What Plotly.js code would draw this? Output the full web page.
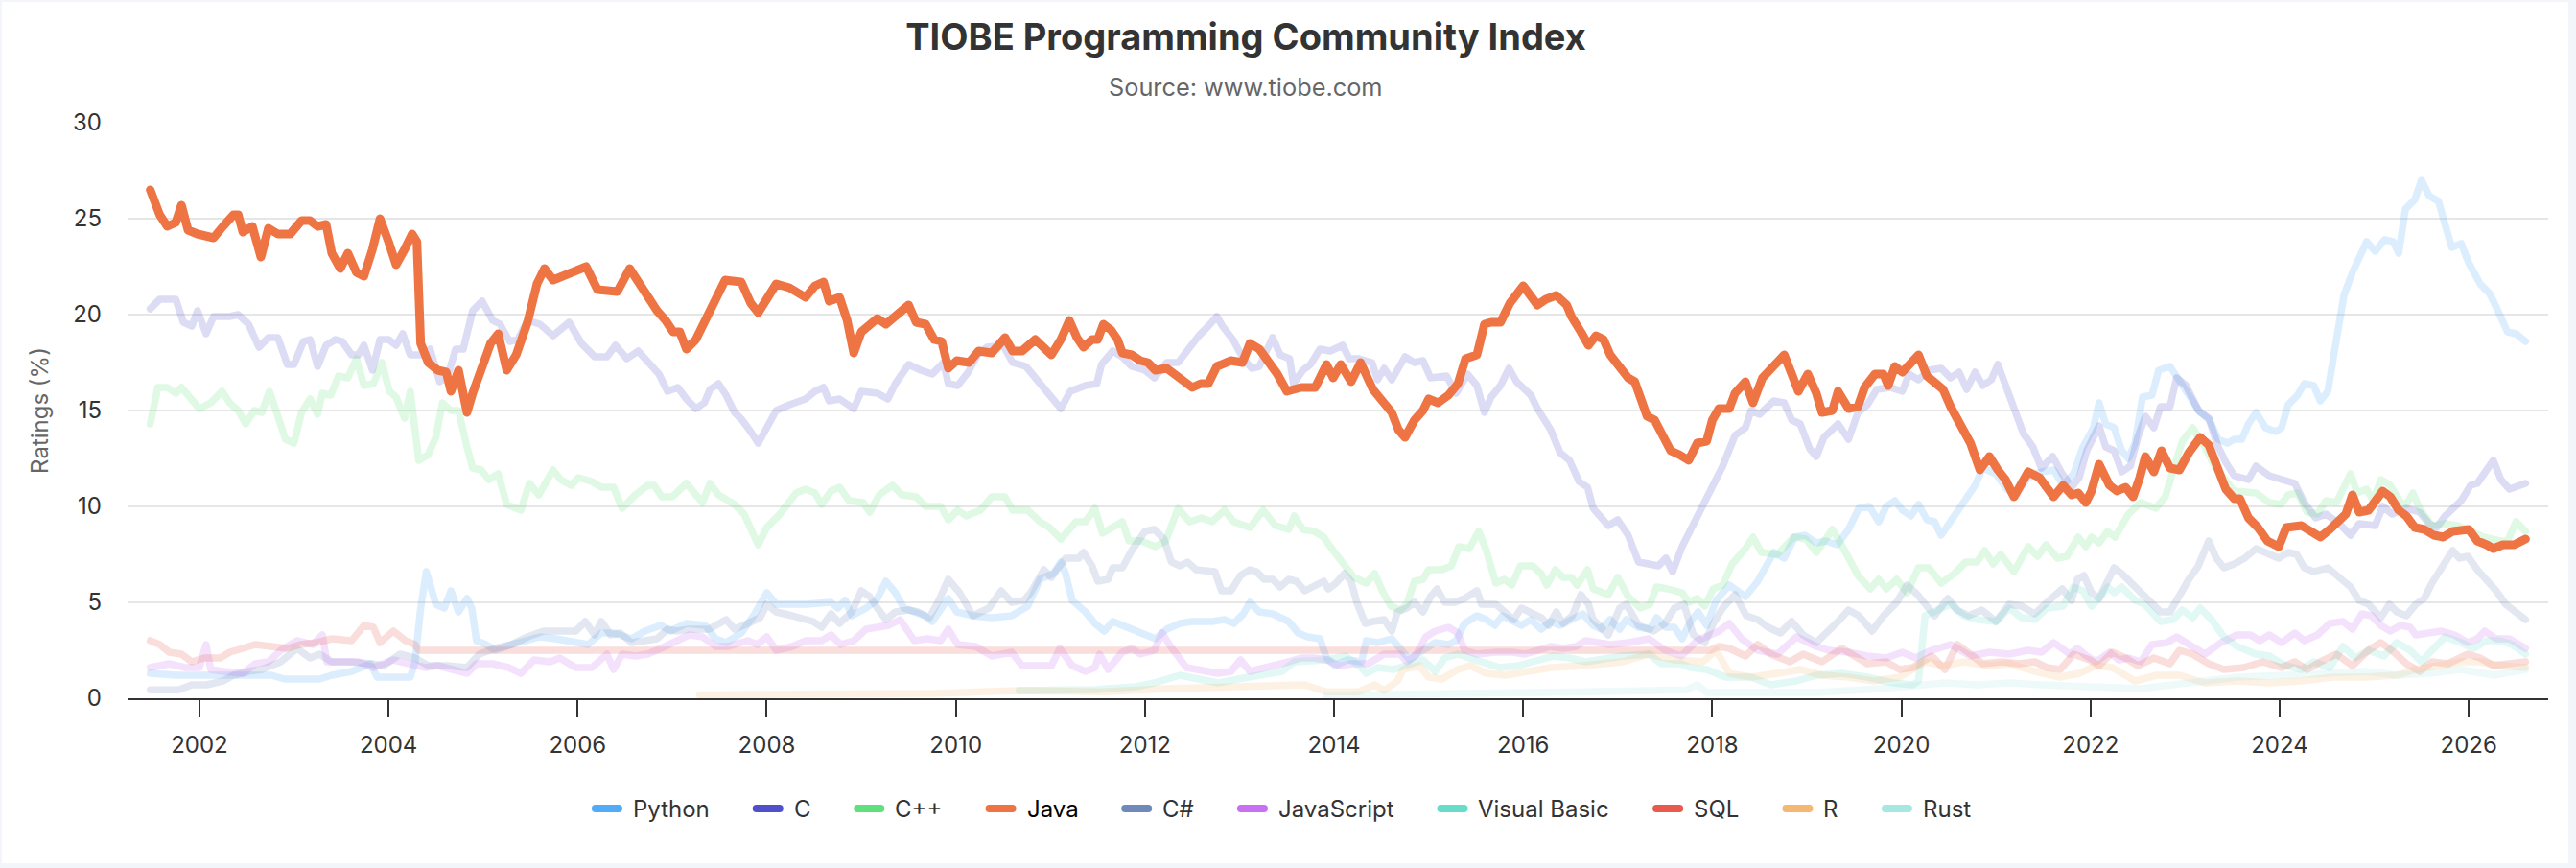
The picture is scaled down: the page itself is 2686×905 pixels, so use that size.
<!DOCTYPE html>
<html><head><meta charset="utf-8">
<script src="https://cdn.plot.ly/plotly-3.0.1.min.js"></script>
<style>
html,body{margin:0;padding:0;background:#f2f5f9;width:2686px;height:905px;overflow:hidden;}
#card{position:absolute;left:2px;top:2px;width:2676px;height:898px;background:#ffffff;}
#chart{position:absolute;left:0;top:0;width:2686px;height:905px;}
.scatterlayer path.js-line{stroke-linejoin:round;stroke-linecap:round;}
.shapelayer path{stroke-linecap:round;}
</style></head><body>
<div id="card"></div><div id="chart"></div>
<script>
// ---- data (decimal year, rating %) ----
const seriesNames = ['Python','C','C++','Java','C#','JavaScript','Visual Basic','SQL','R','Rust'];

const pythonPts = [[2001.48,1.3],[2001.75,1.2],[2002.08,1.2],[2002.25,1.2],[2002.59,1.2],[2002.76,1.2],[2002.90,1.0],[2003.27,1.0],[2003.40,1.2],[2003.61,1.4],[2003.81,1.8],[2003.88,1.1],[2004.01,1.1],[2004.23,1.1],[2004.28,1.9],[2004.34,4.7],[2004.40,6.6],[2004.50,4.9],[2004.59,4.7],[2004.66,5.6],[2004.74,4.5],[2004.83,5.2],[2004.88,4.7],[2004.93,3.0],[2005.03,2.8],[2005.13,2.5],[2005.30,2.8],[2005.47,3.0],[2005.60,3.2],[2005.77,3.1],[2005.98,2.9],[2006.11,2.8],[2006.25,3.4],[2006.38,3.4],[2006.57,3.1],[2006.71,3.5],[2006.88,3.8],[2006.98,3.5],[2007.15,3.9],[2007.35,3.8],[2007.46,3.1],[2007.57,2.9],[2007.73,3.4],[2007.86,4.3],[2008.00,5.5],[2008.10,4.9],[2008.41,4.9],[2008.68,5.0],[2008.75,4.7],[2008.83,5.1],[2008.90,4.3],[2009.05,4.7],[2009.16,5.1],[2009.26,6.1],[2009.36,5.5],[2009.45,4.7],[2009.56,4.5],[2009.67,4.3],[2009.75,4.0],[2009.84,4.7],[2009.92,5.2],[2010.01,4.5],[2010.18,4.3],[2010.38,4.2],[2010.59,4.3],[2010.76,4.8],[2010.89,6.2],[2011.03,6.5],[2011.11,7.1],[2011.16,6.5],[2011.23,5.1],[2011.37,4.5],[2011.47,3.9],[2011.57,3.5],[2011.66,4.0],[2011.76,3.8],[2011.90,3.5],[2012.03,3.2],[2012.11,3.1],[2012.23,3.6],[2012.37,3.9],[2012.50,4.0],[2012.71,4.0],[2012.84,4.1],[2012.94,3.9],[2013.04,4.4],[2013.11,5.0],[2013.21,4.5],[2013.35,4.4],[2013.52,4.0],[2013.62,3.4],[2013.72,3.2],[2013.85,3.1],[2013.92,2.1],[2014.01,1.7],[2014.14,2.0],[2014.29,1.9],[2014.34,3.0],[2014.46,2.9],[2014.61,3.1],[2014.70,2.6],[2014.80,2.0],[2014.94,2.5],[2015.07,2.9],[2015.21,2.8],[2015.29,3.0],[2015.38,3.9],[2015.51,4.3],[2015.61,4.1],[2015.70,3.8],[2015.78,4.3],[2015.88,4.1],[2015.98,3.8],[2016.08,4.1],[2016.19,3.6],[2016.29,4.0],[2016.39,3.8],[2016.51,4.1],[2016.63,4.4],[2016.74,3.8],[2016.82,3.6],[2016.92,4.1],[2017.02,3.6],[2017.09,4.1],[2017.22,3.7],[2017.34,3.6],[2017.41,4.2],[2017.51,3.7],[2017.60,3.7],[2017.68,3.1],[2017.77,4.0],[2017.85,4.5],[2017.94,3.8],[2018.04,5.1],[2018.18,5.9],[2018.35,5.3],[2018.48,6.1],[2018.65,7.6],[2018.76,7.3],[2018.87,8.4],[2018.98,8.5],[2019.10,8.1],[2019.20,8.2],[2019.32,8.0],[2019.44,8.8],[2019.55,9.9],[2019.66,10.0],[2019.76,9.2],[2019.84,10.0],[2019.93,10.3],[2020.01,9.8],[2020.10,9.5],[2020.18,10.1],[2020.27,9.3],[2020.35,9.2],[2020.42,8.5],[2020.52,9.2],[2020.66,10.1],[2020.78,11.1],[2020.86,12.0],[2021.00,11.7],[2021.10,11.0],[2021.20,10.5],[2021.34,11.5],[2021.48,11.8],[2021.61,11.9],[2021.71,11.1],[2021.82,11.7],[2021.92,13.1],[2022.03,14.1],[2022.09,15.4],[2022.16,14.3],[2022.25,14.1],[2022.33,12.9],[2022.40,12.5],[2022.47,13.3],[2022.55,15.7],[2022.65,15.8],[2022.72,17.1],[2022.84,17.3],[2022.92,16.7],[2023.04,15.9],[2023.16,14.9],[2023.26,14.5],[2023.35,13.5],[2023.45,13.3],[2023.52,13.5],[2023.60,13.5],[2023.67,14.3],[2023.75,14.9],[2023.85,14.1],[2023.96,13.9],[2024.02,14.1],[2024.09,15.3],[2024.19,15.8],[2024.26,16.4],[2024.36,16.3],[2024.43,15.5],[2024.51,16.0],[2024.58,18.1],[2024.68,21.0],[2024.77,22.2],[2024.86,23.2],[2024.92,23.8],[2025.01,23.3],[2025.11,23.9],[2025.20,23.8],[2025.26,23.2],[2025.33,25.5],[2025.43,26.0],[2025.50,27.0],[2025.58,26.2],[2025.68,25.9],[2025.75,24.6],[2025.82,23.5],[2025.92,23.7],[2026.00,22.7],[2026.12,21.6],[2026.22,21.1],[2026.29,20.4],[2026.41,19.1],[2026.50,19.0],[2026.60,18.6]];

const cPts = [[2001.48,20.3],[2001.58,20.8],[2001.75,20.8],[2001.83,19.6],[2001.92,19.4],[2001.98,20.2],[2002.07,19.0],[2002.15,19.9],[2002.32,19.9],[2002.41,20.0],[2002.52,19.5],[2002.63,18.3],[2002.73,18.8],[2002.83,18.8],[2002.93,17.4],[2003.00,17.4],[2003.10,18.6],[2003.17,18.7],[2003.25,17.3],[2003.34,18.4],[2003.44,18.7],[2003.51,18.6],[2003.61,17.9],[2003.68,17.9],[2003.74,18.4],[2003.83,17.1],[2003.91,18.7],[2004.00,18.7],[2004.08,18.4],[2004.15,19.0],[2004.23,17.9],[2004.35,17.9],[2004.44,18.2],[2004.54,16.5],[2004.62,16.7],[2004.71,18.2],[2004.79,18.2],[2004.89,20.2],[2004.99,20.7],[2005.10,19.7],[2005.18,19.5],[2005.28,18.6],[2005.37,18.7],[2005.47,19.7],[2005.60,19.5],[2005.74,18.9],[2005.91,19.6],[2006.04,18.5],[2006.18,17.8],[2006.31,17.8],[2006.40,18.4],[2006.52,17.7],[2006.64,18.1],[2006.74,17.6],[2006.86,16.9],[2006.95,16.0],[2007.06,16.2],[2007.15,15.6],[2007.25,15.1],[2007.34,15.4],[2007.40,16.1],[2007.49,16.4],[2007.57,15.8],[2007.66,14.9],[2007.74,14.5],[2007.83,13.9],[2007.91,13.3],[2008.00,14.1],[2008.10,15.0],[2008.24,15.3],[2008.41,15.6],[2008.51,16.0],[2008.60,16.2],[2008.66,15.5],[2008.77,15.6],[2008.92,15.1],[2009.00,16.0],[2009.17,15.9],[2009.28,15.6],[2009.36,16.4],[2009.50,17.4],[2009.63,17.1],[2009.75,16.9],[2009.87,17.5],[2009.92,16.4],[2010.02,16.3],[2010.13,17.0],[2010.23,17.9],[2010.33,18.3],[2010.50,18.4],[2010.60,17.5],[2010.74,17.3],[2010.86,16.6],[2010.99,15.9],[2011.11,15.1],[2011.21,16.0],[2011.37,16.3],[2011.49,16.4],[2011.54,17.4],[2011.66,18.1],[2011.76,17.8],[2011.86,17.3],[2012.00,17.1],[2012.10,16.7],[2012.23,17.5],[2012.35,17.5],[2012.47,18.3],[2012.57,18.9],[2012.67,19.4],[2012.76,19.9],[2012.82,19.4],[2012.93,18.7],[2013.04,17.7],[2013.13,17.2],[2013.21,17.3],[2013.28,18.1],[2013.35,18.8],[2013.43,17.9],[2013.53,17.7],[2013.57,16.4],[2013.67,17.1],[2013.75,17.4],[2013.85,18.2],[2013.96,18.1],[2014.09,18.4],[2014.16,17.7],[2014.26,17.7],[2014.40,17.5],[2014.46,16.6],[2014.53,17.2],[2014.61,16.6],[2014.75,17.8],[2014.85,17.5],[2014.94,17.6],[2015.02,16.7],[2015.19,16.8],[2015.29,15.9],[2015.41,16.9],[2015.51,16.3],[2015.59,14.9],[2015.66,15.7],[2015.76,16.3],[2015.85,17.2],[2015.93,16.5],[2016.08,15.8],[2016.15,15.1],[2016.29,14.0],[2016.39,12.8],[2016.49,12.4],[2016.59,11.3],[2016.68,11.0],[2016.74,9.9],[2016.90,9.0],[2017.00,9.3],[2017.11,8.5],[2017.22,7.1],[2017.34,7.0],[2017.43,6.9],[2017.51,7.3],[2017.58,6.6],[2017.68,7.9],[2017.80,9.1],[2017.90,10.1],[2018.01,11.2],[2018.11,12.1],[2018.24,13.7],[2018.35,14.1],[2018.41,15.0],[2018.50,14.8],[2018.65,15.5],[2018.76,15.4],[2018.84,14.5],[2018.93,14.3],[2019.03,13.0],[2019.10,12.6],[2019.18,13.6],[2019.33,14.3],[2019.44,13.5],[2019.54,14.9],[2019.64,15.3],[2019.74,16.1],[2019.88,16.2],[2020.01,16.0],[2020.08,16.9],[2020.18,16.6],[2020.29,17.1],[2020.42,17.2],[2020.52,16.7],[2020.61,17.0],[2020.69,16.1],[2020.78,17.0],[2020.86,16.3],[2020.95,16.6],[2021.02,17.4],[2021.10,16.3],[2021.20,14.9],[2021.29,13.8],[2021.39,13.1],[2021.48,12.0],[2021.60,12.6],[2021.70,11.7],[2021.80,11.0],[2021.88,11.5],[2021.96,12.9],[2022.03,13.5],[2022.09,14.2],[2022.16,13.1],[2022.25,12.9],[2022.33,11.8],[2022.42,12.1],[2022.50,13.6],[2022.58,14.7],[2022.67,14.1],[2022.74,15.2],[2022.84,15.2],[2022.91,16.7],[2023.01,16.3],[2023.14,15.0],[2023.25,14.6],[2023.35,13.1],[2023.43,12.3],[2023.52,11.6],[2023.67,11.4],[2023.75,12.1],[2023.89,11.6],[2024.02,11.4],[2024.16,11.2],[2024.26,10.2],[2024.38,9.4],[2024.49,9.6],[2024.63,9.1],[2024.75,8.5],[2024.84,9.1],[2025.01,9.0],[2025.09,10.0],[2025.19,9.6],[2025.34,9.9],[2025.48,9.7],[2025.58,9.1],[2025.66,8.9],[2025.75,9.5],[2025.92,10.3],[2026.02,11.1],[2026.09,11.2],[2026.17,11.8],[2026.26,12.4],[2026.34,11.4],[2026.43,10.9],[2026.60,11.2]];

const cppPts = [[2001.48,14.3],[2001.56,16.2],[2001.66,16.2],[2001.75,15.9],[2001.81,16.2],[2001.90,15.7],[2002.00,15.1],[2002.12,15.4],[2002.24,16.0],[2002.32,15.4],[2002.41,15.0],[2002.49,14.3],[2002.58,15.0],[2002.66,14.9],[2002.74,16.0],[2002.83,14.7],[2002.91,13.5],[2003.00,13.3],[2003.08,14.9],[2003.17,15.6],[2003.25,14.8],[2003.30,15.9],[2003.39,15.8],[2003.47,16.8],[2003.57,16.7],[2003.66,17.7],[2003.74,16.3],[2003.84,16.4],[2003.93,17.5],[2004.01,16.0],[2004.08,15.7],[2004.17,14.6],[2004.23,16.0],[2004.32,12.4],[2004.42,12.7],[2004.50,13.6],[2004.57,15.4],[2004.66,15.0],[2004.74,15.0],[2004.83,13.1],[2004.89,12.0],[2004.98,11.9],[2005.06,11.4],[2005.16,11.7],[2005.25,10.1],[2005.40,9.8],[2005.49,11.2],[2005.59,10.6],[2005.74,11.9],[2005.82,11.4],[2005.93,11.1],[2006.01,11.5],[2006.15,11.3],[2006.25,11.0],[2006.38,11.0],[2006.47,9.9],[2006.61,10.6],[2006.74,11.1],[2006.81,11.1],[2006.89,10.5],[2007.00,10.5],[2007.15,11.2],[2007.32,10.2],[2007.40,11.2],[2007.49,10.6],[2007.66,10.1],[2007.76,9.6],[2007.91,8.0],[2008.00,8.9],[2008.14,9.6],[2008.31,10.7],[2008.41,10.9],[2008.51,10.7],[2008.58,10.1],[2008.68,10.8],[2008.77,11.0],[2008.87,10.3],[2009.02,10.2],[2009.09,9.7],[2009.19,10.6],[2009.33,11.1],[2009.43,10.6],[2009.58,10.5],[2009.68,10.0],[2009.84,10.0],[2009.92,9.3],[2010.02,9.8],[2010.11,9.5],[2010.26,9.8],[2010.38,10.5],[2010.52,10.5],[2010.60,9.8],[2010.76,9.8],[2010.89,9.2],[2010.99,8.9],[2011.11,8.3],[2011.27,9.2],[2011.37,9.2],[2011.47,9.9],[2011.55,8.6],[2011.67,9.0],[2011.76,9.2],[2011.83,8.2],[2011.96,8.2],[2012.11,7.9],[2012.22,8.2],[2012.35,9.9],[2012.47,9.2],[2012.60,9.4],[2012.71,9.2],[2012.84,9.8],[2012.94,9.2],[2013.11,8.9],[2013.25,9.8],[2013.38,9.0],[2013.52,8.8],[2013.58,9.5],[2013.67,8.8],[2013.79,8.7],[2013.89,8.4],[2013.99,7.7],[2014.09,7.1],[2014.21,6.3],[2014.34,6.0],[2014.43,6.5],[2014.51,5.6],[2014.60,4.8],[2014.70,4.6],[2014.77,4.9],[2014.85,6.1],[2014.94,6.2],[2015.00,6.7],[2015.14,6.7],[2015.24,6.9],[2015.32,7.9],[2015.43,7.8],[2015.53,8.7],[2015.61,7.7],[2015.71,6.0],[2015.80,6.2],[2015.88,5.9],[2015.97,6.9],[2016.10,6.9],[2016.19,6.5],[2016.25,5.9],[2016.34,6.7],[2016.42,6.3],[2016.51,6.3],[2016.57,5.9],[2016.68,6.7],[2016.74,5.7],[2016.90,5.4],[2017.00,6.3],[2017.11,5.3],[2017.24,4.7],[2017.34,4.9],[2017.41,5.8],[2017.53,5.7],[2017.68,5.5],[2017.75,5.0],[2017.84,5.2],[2017.92,4.8],[2018.01,5.7],[2018.11,5.9],[2018.21,7.0],[2018.35,7.8],[2018.43,8.4],[2018.52,7.6],[2018.69,7.5],[2018.86,8.4],[2018.99,8.3],[2019.10,7.6],[2019.27,8.8],[2019.40,7.7],[2019.54,6.4],[2019.67,5.7],[2019.76,6.2],[2019.84,5.7],[2019.95,6.2],[2020.06,5.5],[2020.18,6.8],[2020.29,6.8],[2020.42,6.0],[2020.56,6.5],[2020.68,7.1],[2020.80,7.1],[2020.88,7.7],[2020.97,7.0],[2021.05,7.5],[2021.19,6.6],[2021.34,7.9],[2021.44,7.4],[2021.53,8.0],[2021.65,7.3],[2021.75,7.4],[2021.87,8.4],[2021.95,7.9],[2022.01,8.4],[2022.09,8.1],[2022.18,8.7],[2022.26,8.4],[2022.40,9.6],[2022.53,10.2],[2022.69,9.9],[2022.79,10.5],[2022.87,11.8],[2022.97,13.4],[2023.08,14.1],[2023.21,13.1],[2023.31,12.1],[2023.43,11.3],[2023.52,10.8],[2023.75,10.7],[2023.89,10.2],[2024.01,10.1],[2024.09,10.6],[2024.19,10.7],[2024.29,9.7],[2024.40,9.6],[2024.49,10.3],[2024.60,10.2],[2024.68,11.0],[2024.75,11.7],[2024.82,10.7],[2024.92,10.9],[2024.99,10.3],[2025.07,11.4],[2025.17,11.1],[2025.28,10.2],[2025.34,10.1],[2025.41,10.7],[2025.48,9.9],[2025.61,9.0],[2025.75,9.1],[2025.88,9.0],[2026.02,8.7],[2026.16,8.4],[2026.33,8.2],[2026.41,8.2],[2026.50,9.2],[2026.60,8.7]];

const javaPts = [[2001.48,26.5],[2001.58,25.2],[2001.66,24.6],[2001.75,24.8],[2001.81,25.7],[2001.88,24.4],[2001.98,24.2],[2002.15,24.0],[2002.25,24.6],[2002.36,25.2],[2002.41,25.2],[2002.46,24.3],[2002.56,24.6],[2002.65,23.0],[2002.73,24.5],[2002.83,24.2],[2002.96,24.2],[2003.08,24.9],[2003.17,24.9],[2003.25,24.6],[2003.34,24.7],[2003.40,23.2],[2003.49,22.4],[2003.57,23.2],[2003.66,22.2],[2003.74,22.0],[2003.83,23.4],[2003.91,25.0],[2004.00,23.8],[2004.08,22.6],[2004.17,23.4],[2004.25,24.2],[2004.30,23.8],[2004.34,18.5],[2004.42,17.5],[2004.52,17.1],[2004.61,17.0],[2004.66,16.0],[2004.74,17.1],[2004.83,14.9],[2004.89,15.9],[2004.98,17.3],[2005.08,18.5],[2005.16,19.0],[2005.25,17.1],[2005.35,17.9],[2005.47,19.6],[2005.57,21.6],[2005.65,22.4],[2005.74,21.8],[2005.91,22.1],[2006.09,22.5],[2006.21,21.3],[2006.31,21.3],[2006.42,21.2],[2006.55,22.4],[2006.64,21.7],[2006.74,21.1],[2006.84,20.2],[2006.93,19.7],[2007.01,19.1],[2007.08,19.1],[2007.15,18.2],[2007.25,18.7],[2007.35,19.7],[2007.46,21.0],[2007.56,21.8],[2007.73,21.7],[2007.83,20.6],[2007.91,20.1],[2008.00,20.9],[2008.10,21.6],[2008.24,21.4],[2008.41,20.9],[2008.51,21.5],[2008.60,21.7],[2008.66,20.7],[2008.77,20.9],[2008.85,19.7],[2008.92,18.0],[2009.00,19.1],[2009.09,19.5],[2009.17,19.8],[2009.26,19.5],[2009.36,19.9],[2009.50,20.5],[2009.58,19.6],[2009.68,19.5],[2009.77,18.7],[2009.85,18.6],[2009.92,17.2],[2010.01,17.6],[2010.14,17.5],[2010.24,18.1],[2010.38,18.0],[2010.52,18.8],[2010.60,18.1],[2010.70,18.1],[2010.84,18.7],[2011.01,17.9],[2011.11,18.7],[2011.20,19.7],[2011.28,18.8],[2011.35,18.3],[2011.44,18.7],[2011.50,18.7],[2011.56,19.5],[2011.64,19.2],[2011.71,18.7],[2011.76,18.0],[2011.86,17.9],[2011.95,17.6],[2012.03,17.5],[2012.11,17.1],[2012.23,17.2],[2012.35,16.7],[2012.50,16.2],[2012.59,16.4],[2012.67,16.4],[2012.76,17.3],[2012.91,17.6],[2013.03,17.5],[2013.11,18.5],[2013.21,18.2],[2013.31,17.5],[2013.40,16.9],[2013.50,16.0],[2013.65,16.2],[2013.80,16.2],[2013.92,17.4],[2013.99,16.7],[2014.07,17.4],[2014.18,16.5],[2014.28,17.5],[2014.41,16.1],[2014.53,15.4],[2014.61,14.9],[2014.68,14.0],[2014.75,13.6],[2014.85,14.5],[2014.94,15.0],[2015.00,15.6],[2015.10,15.4],[2015.21,15.8],[2015.31,16.4],[2015.39,17.7],[2015.51,17.9],[2015.59,19.5],[2015.66,19.6],[2015.76,19.6],[2015.86,20.6],[2016.00,21.5],[2016.08,21.0],[2016.15,20.5],[2016.24,20.8],[2016.35,21.0],[2016.46,20.5],[2016.51,19.9],[2016.61,19.1],[2016.69,18.4],[2016.77,18.9],[2016.85,18.7],[2016.92,17.9],[2017.00,17.4],[2017.11,16.7],[2017.18,16.5],[2017.24,15.7],[2017.31,14.7],[2017.39,14.5],[2017.48,13.7],[2017.56,12.9],[2017.65,12.7],[2017.75,12.4],[2017.84,13.3],[2017.94,13.4],[2018.00,14.5],[2018.07,15.1],[2018.18,15.1],[2018.24,15.9],[2018.35,16.5],[2018.43,15.4],[2018.53,16.7],[2018.64,17.3],[2018.76,17.9],[2018.84,16.9],[2018.91,16.0],[2019.01,16.9],[2019.10,15.9],[2019.16,14.9],[2019.27,15.0],[2019.33,16.0],[2019.44,15.1],[2019.54,15.2],[2019.61,16.2],[2019.72,16.9],[2019.81,16.9],[2019.86,16.3],[2019.93,17.3],[2020.01,17.0],[2020.10,17.5],[2020.18,17.9],[2020.27,16.8],[2020.37,16.3],[2020.44,16.1],[2020.52,15.2],[2020.63,14.3],[2020.73,13.3],[2020.83,11.9],[2020.93,12.6],[2021.02,11.9],[2021.10,11.4],[2021.19,10.5],[2021.26,11.1],[2021.34,11.8],[2021.46,11.5],[2021.53,11.1],[2021.61,10.5],[2021.71,11.1],[2021.80,10.6],[2021.87,10.7],[2021.95,10.2],[2022.01,10.8],[2022.09,12.2],[2022.20,11.1],[2022.28,10.8],[2022.37,11.0],[2022.45,10.5],[2022.52,11.5],[2022.58,12.6],[2022.67,11.8],[2022.75,12.9],[2022.84,12.0],[2022.94,11.9],[2023.04,12.8],[2023.16,13.6],[2023.25,13.2],[2023.33,12.1],[2023.43,10.9],[2023.52,10.4],[2023.58,10.4],[2023.67,9.4],[2023.77,8.9],[2023.87,8.2],[2023.99,7.9],[2024.07,8.9],[2024.23,9.0],[2024.33,8.7],[2024.43,8.4],[2024.53,8.8],[2024.63,9.3],[2024.70,9.6],[2024.77,10.6],[2024.84,9.7],[2024.94,9.8],[2025.09,10.8],[2025.17,10.5],[2025.26,9.8],[2025.34,9.5],[2025.43,8.9],[2025.53,8.8],[2025.63,8.5],[2025.73,8.4],[2025.83,8.7],[2026.00,8.8],[2026.09,8.2],[2026.19,8.0],[2026.26,7.8],[2026.36,8.0],[2026.48,8.0],[2026.60,8.3]];

const csharpPts = [[2001.48,0.44],[2001.78,0.44],[2001.92,0.7],[2002.08,0.7],[2002.25,0.9],[2002.36,1.2],[2002.52,1.4],[2002.66,1.5],[2002.86,1.9],[2003.03,2.6],[2003.17,2.1],[2003.27,2.3],[2003.40,1.9],[2003.61,1.9],[2003.81,1.8],[2003.95,1.7],[2004.12,2.3],[2004.28,2.1],[2004.42,1.7],[2004.62,1.7],[2004.83,1.6],[2004.96,2.3],[2005.13,2.6],[2005.30,2.8],[2005.47,3.2],[2005.64,3.5],[2005.81,3.5],[2005.98,3.5],[2006.08,4.0],[2006.18,3.3],[2006.25,4.0],[2006.35,3.3],[2006.45,3.4],[2006.57,2.9],[2006.71,3.0],[2006.84,3.1],[2006.95,3.6],[2007.05,3.5],[2007.18,3.6],[2007.39,3.6],[2007.57,4.1],[2007.66,3.6],[2007.80,3.9],[2007.93,4.2],[2008.00,4.9],[2008.10,4.5],[2008.27,4.3],[2008.49,4.0],[2008.58,3.7],[2008.68,4.4],[2008.77,3.9],[2008.90,4.5],[2009.00,5.6],[2009.09,5.3],[2009.17,4.7],[2009.26,4.1],[2009.36,4.5],[2009.50,4.6],[2009.60,4.5],[2009.72,4.2],[2009.82,5.1],[2009.92,6.2],[2010.04,5.5],[2010.18,4.3],[2010.35,4.7],[2010.48,5.6],[2010.59,5.0],[2010.72,5.1],[2010.79,5.5],[2010.93,6.7],[2011.01,6.3],[2011.16,7.3],[2011.30,7.3],[2011.35,7.6],[2011.44,6.9],[2011.50,6.1],[2011.61,6.2],[2011.66,6.8],[2011.76,6.8],[2011.86,7.7],[2012.00,8.7],[2012.10,8.8],[2012.20,8.3],[2012.28,7.1],[2012.37,6.9],[2012.45,7.1],[2012.54,6.7],[2012.74,6.6],[2012.81,5.6],[2012.91,5.6],[2013.01,6.4],[2013.11,6.7],[2013.18,6.6],[2013.26,6.2],[2013.35,6.2],[2013.43,5.8],[2013.52,6.2],[2013.60,6.1],[2013.69,5.6],[2013.79,5.8],[2013.89,6.1],[2013.94,5.7],[2014.02,6.0],[2014.11,6.5],[2014.18,6.1],[2014.24,5.0],[2014.33,3.9],[2014.41,4.0],[2014.53,4.1],[2014.61,3.5],[2014.67,4.5],[2014.77,4.7],[2014.85,5.0],[2014.94,4.5],[2015.02,5.3],[2015.09,5.7],[2015.17,5.0],[2015.27,5.0],[2015.38,5.2],[2015.51,5.6],[2015.56,4.9],[2015.71,4.9],[2015.81,4.5],[2015.90,4.1],[2015.98,4.7],[2016.08,4.5],[2016.19,4.2],[2016.27,3.8],[2016.35,4.5],[2016.42,3.9],[2016.52,4.3],[2016.61,5.4],[2016.69,4.9],[2016.74,4.1],[2016.90,3.3],[2017.02,4.7],[2017.09,4.9],[2017.22,3.8],[2017.38,3.5],[2017.50,3.9],[2017.60,4.7],[2017.70,4.9],[2017.80,3.3],[2017.92,2.9],[2018.01,3.9],[2018.11,4.7],[2018.24,5.4],[2018.36,4.3],[2018.48,4.1],[2018.59,3.7],[2018.72,3.4],[2018.84,4.0],[2018.96,3.3],[2019.10,2.9],[2019.23,3.5],[2019.33,4.0],[2019.44,4.6],[2019.55,4.3],[2019.69,3.5],[2019.81,4.3],[2019.95,5.0],[2020.06,5.9],[2020.17,5.4],[2020.27,4.7],[2020.35,4.3],[2020.49,5.2],[2020.59,4.6],[2020.71,4.3],[2020.85,4.6],[2021.00,4.0],[2021.14,4.9],[2021.27,4.8],[2021.41,4.4],[2021.54,5.0],[2021.70,5.7],[2021.80,5.1],[2021.86,6.2],[2021.93,6.4],[2022.01,5.5],[2022.09,5.2],[2022.18,6.0],[2022.25,6.8],[2022.33,6.5],[2022.43,6.0],[2022.53,5.6],[2022.65,5.0],[2022.74,4.5],[2022.84,4.5],[2022.94,5.4],[2023.04,6.2],[2023.14,6.9],[2023.25,8.2],[2023.33,7.3],[2023.41,6.8],[2023.52,7.0],[2023.63,7.3],[2023.75,7.8],[2023.87,7.5],[2023.99,7.3],[2024.09,7.6],[2024.18,7.5],[2024.26,6.8],[2024.36,6.6],[2024.51,6.8],[2024.63,6.3],[2024.75,5.8],[2024.84,5.1],[2024.94,4.9],[2025.07,4.2],[2025.16,4.9],[2025.24,4.5],[2025.34,4.3],[2025.44,4.9],[2025.53,5.2],[2025.61,6.0],[2025.71,6.8],[2025.83,7.7],[2025.90,7.3],[2025.99,7.4],[2026.09,6.7],[2026.21,6.1],[2026.29,5.6],[2026.39,4.9],[2026.60,4.1]];

const jsPts = [[2001.48,1.6],[2001.68,1.8],[2001.85,1.6],[2002.00,1.6],[2002.07,2.8],[2002.12,1.5],[2002.25,1.4],[2002.46,1.3],[2002.59,1.8],[2002.73,1.9],[2002.86,2.5],[2003.03,3.0],[2003.20,2.8],[2003.30,3.3],[2003.35,1.9],[2003.54,1.9],[2003.68,1.9],[2003.84,1.6],[2004.05,2.0],[2004.22,1.8],[2004.39,1.6],[2004.52,1.7],[2004.69,1.5],[2004.83,1.3],[2004.93,1.8],[2005.10,1.8],[2005.27,1.6],[2005.40,1.3],[2005.54,2.0],[2005.71,1.9],[2005.81,2.1],[2005.98,1.6],[2006.15,1.6],[2006.31,2.3],[2006.38,1.5],[2006.47,2.3],[2006.61,2.2],[2006.74,2.3],[2006.88,2.6],[2007.05,3.0],[2007.18,3.3],[2007.32,3.2],[2007.46,2.7],[2007.59,2.7],[2007.80,3.0],[2007.90,2.8],[2008.00,3.2],[2008.10,2.5],[2008.27,2.7],[2008.41,3.0],[2008.58,3.0],[2008.68,3.3],[2008.78,2.8],[2008.92,3.0],[2009.05,3.6],[2009.29,3.8],[2009.41,4.1],[2009.56,3.0],[2009.70,3.1],[2009.84,3.0],[2009.92,3.6],[2010.02,2.8],[2010.21,2.7],[2010.38,2.2],[2010.59,2.4],[2010.70,1.7],[2010.89,1.7],[2011.01,1.7],[2011.10,2.6],[2011.23,1.7],[2011.37,1.4],[2011.47,1.6],[2011.52,2.3],[2011.61,1.5],[2011.76,2.4],[2011.86,2.6],[2011.95,2.3],[2012.10,2.5],[2012.18,3.4],[2012.27,2.7],[2012.44,1.6],[2012.57,1.5],[2012.77,1.3],[2012.91,1.4],[2013.01,2.0],[2013.11,1.4],[2013.21,1.5],[2013.38,1.7],[2013.52,1.9],[2013.65,2.1],[2013.79,2.1],[2013.92,2.0],[2014.06,1.7],[2014.19,1.8],[2014.36,1.8],[2014.53,2.3],[2014.70,2.3],[2014.77,1.9],[2014.87,2.3],[2014.97,3.2],[2015.07,3.5],[2015.21,3.7],[2015.31,3.4],[2015.38,2.5],[2015.51,2.3],[2015.71,2.4],[2015.88,2.4],[2016.02,2.3],[2016.15,2.5],[2016.29,2.7],[2016.42,2.6],[2016.56,2.7],[2016.66,3.0],[2016.92,2.8],[2017.12,2.9],[2017.33,3.1],[2017.50,2.5],[2017.67,2.2],[2017.84,3.0],[2018.01,3.3],[2018.07,3.5],[2018.18,3.9],[2018.31,3.1],[2018.48,2.5],[2018.69,2.3],[2018.89,3.2],[2019.10,2.7],[2019.23,2.5],[2019.44,2.4],[2019.64,2.2],[2019.84,2.1],[2020.01,2.4],[2020.15,2.1],[2020.32,2.5],[2020.52,2.8],[2020.73,2.2],[2020.93,2.4],[2021.14,2.3],[2021.34,2.5],[2021.48,2.4],[2021.61,2.9],[2021.78,2.3],[2021.86,2.6],[2021.96,2.2],[2022.06,1.9],[2022.20,2.4],[2022.30,2.0],[2022.40,2.1],[2022.53,1.9],[2022.65,2.8],[2022.81,2.9],[2022.91,3.2],[2023.04,2.8],[2023.21,2.3],[2023.38,2.9],[2023.55,3.3],[2023.69,3.3],[2023.79,3.0],[2023.89,3.3],[2024.02,2.9],[2024.16,3.4],[2024.26,3.0],[2024.40,3.3],[2024.53,3.9],[2024.67,4.0],[2024.77,3.6],[2024.87,4.4],[2024.97,4.3],[2025.07,3.8],[2025.17,3.5],[2025.28,3.8],[2025.38,3.7],[2025.44,3.3],[2025.58,3.4],[2025.71,3.5],[2025.85,3.3],[2025.99,2.9],[2026.09,3.1],[2026.17,3.5],[2026.29,3.1],[2026.43,3.1],[2026.60,2.6]];

const vbPts = [[2010.67,0.4],[2011.13,0.4],[2011.47,0.45],[2011.90,0.6],[2012.10,0.8],[2012.37,1.2],[2012.57,1.0],[2012.77,0.8],[2012.98,1.0],[2013.25,1.2],[2013.45,1.4],[2013.58,1.9],[2013.79,2.0],[2013.92,2.0],[2014.12,2.2],[2014.29,1.6],[2014.34,1.3],[2014.46,1.6],[2014.63,1.5],[2014.77,1.7],[2014.94,2.0],[2015.07,1.4],[2015.17,2.1],[2015.31,2.3],[2015.44,2.1],[2015.61,1.9],[2015.75,1.6],[2015.95,1.7],[2016.15,2.0],[2016.32,2.2],[2016.49,2.1],[2016.66,1.9],[2017.05,2.2],[2017.33,2.3],[2017.46,1.8],[2017.67,1.8],[2017.77,1.6],[2017.94,1.5],[2018.14,1.1],[2018.41,1.1],[2018.62,0.7],[2018.89,0.9],[2019.10,1.2],[2019.37,1.3],[2019.64,1.1],[2019.91,0.8],[2020.12,0.7],[2020.18,0.9],[2020.25,4.3],[2020.39,4.6],[2020.52,4.9],[2020.66,4.3],[2020.80,4.1],[2021.00,4.0],[2021.14,4.7],[2021.27,4.2],[2021.41,4.1],[2021.54,4.7],[2021.71,4.8],[2021.82,5.8],[2021.92,5.6],[2022.01,4.8],[2022.09,5.2],[2022.18,5.8],[2022.25,5.5],[2022.33,5.8],[2022.47,5.1],[2022.57,4.9],[2022.74,4.0],[2022.87,4.1],[2022.97,4.6],[2023.08,4.2],[2023.16,4.7],[2023.28,4.1],[2023.41,3.2],[2023.55,2.7],[2023.75,2.3],[2023.89,2.2],[2024.06,1.7],[2024.23,1.5],[2024.36,1.9],[2024.53,1.6],[2024.67,2.7],[2024.80,2.1],[2024.94,2.5],[2025.10,2.2],[2025.24,2.9],[2025.38,2.5],[2025.50,1.9],[2025.61,2.5],[2025.75,3.2],[2025.92,2.9],[2026.05,2.6],[2026.19,3.0],[2026.33,3.0],[2026.46,2.8],[2026.60,2.3]];

const sqlPts = [[2001.48,3.0],[2001.58,2.8],[2001.68,2.4],[2001.81,2.3],[2001.92,1.9],[2002.05,2.1],[2002.22,2.1],[2002.32,2.4],[2002.46,2.6],[2002.59,2.8],[2002.76,2.7],[2002.93,2.6],[2003.07,2.8],[2003.24,2.9],[2003.40,3.1],[2003.61,3.0],[2003.74,3.8],[2003.84,3.7],[2003.91,2.9],[2004.05,3.5],[2004.18,3.0],[2004.28,2.8],[2004.32,2.5],[2017.98,2.5],[2018.07,2.7],[2018.18,2.6],[2018.35,2.2],[2018.48,2.8],[2018.62,2.3],[2018.82,1.9],[2018.96,2.3],[2019.16,1.9],[2019.37,2.6],[2019.50,2.2],[2019.64,1.8],[2019.84,1.9],[2019.98,1.5],[2020.12,1.6],[2020.32,2.2],[2020.46,1.5],[2020.59,2.8],[2020.73,2.3],[2020.86,1.8],[2021.07,1.9],[2021.24,1.8],[2021.41,1.9],[2021.54,1.6],[2021.68,1.5],[2021.82,2.3],[2021.99,2.0],[2022.09,1.7],[2022.23,2.4],[2022.37,2.1],[2022.50,1.7],[2022.67,2.1],[2022.84,1.8],[2022.94,2.5],[2023.08,2.3],[2023.25,1.8],[2023.41,1.5],[2023.62,1.6],[2023.82,1.9],[2024.02,1.6],[2024.16,1.9],[2024.29,1.5],[2024.43,1.9],[2024.60,2.3],[2024.77,1.7],[2024.94,2.5],[2025.07,2.9],[2025.21,2.4],[2025.34,1.8],[2025.48,1.4],[2025.61,1.9],[2025.78,1.8],[2025.99,2.3],[2026.12,2.1],[2026.26,1.7],[2026.43,1.8],[2026.60,1.9]];

const rPts = [[2007.29,0.18],[2008.07,0.2],[2009.09,0.2],[2009.77,0.25],[2010.65,0.4],[2011.56,0.34],[2012.23,0.5],[2012.91,0.6],[2013.69,0.7],[2013.92,0.34],[2014.26,0.34],[2014.43,0.7],[2014.53,0.4],[2014.67,0.9],[2014.73,1.5],[2014.90,1.7],[2015.00,1.1],[2015.14,1.0],[2015.31,1.5],[2015.44,1.7],[2015.61,1.3],[2015.81,1.2],[2016.02,1.4],[2016.29,1.6],[2016.63,1.7],[2017.05,1.9],[2017.33,2.3],[2017.60,2.0],[2017.90,1.9],[2018.04,2.5],[2018.18,1.3],[2018.41,1.1],[2018.69,1.3],[2018.93,1.5],[2019.16,1.2],[2019.44,1.1],[2019.71,0.9],[2019.98,1.1],[2020.25,1.9],[2020.46,1.7],[2020.66,1.9],[2020.93,1.7],[2021.14,1.8],[2021.41,1.4],[2021.68,1.1],[2021.88,1.3],[2022.06,1.7],[2022.23,1.6],[2022.47,0.9],[2022.70,1.2],[2022.94,1.2],[2023.21,0.8],[2023.55,0.9],[2023.89,0.8],[2024.23,0.9],[2024.56,1.1],[2024.90,1.1],[2025.24,1.2],[2025.44,1.5],[2025.65,1.7],[2025.92,1.9],[2026.12,1.9],[2026.33,1.7],[2026.60,1.6]];

const rustPts = [[2013.92,0.15],[2015.00,0.2],[2016.00,0.25],[2016.71,0.34],[2017.73,0.44],[2017.84,0.7],[2017.94,0.3],[2018.41,0.3],[2019.10,0.3],[2019.78,0.5],[2020.25,0.7],[2020.46,0.8],[2020.80,0.7],[2021.14,0.8],[2021.48,0.7],[2021.86,0.6],[2022.53,0.5],[2023.21,0.9],[2023.55,1.1],[2024.06,1.2],[2024.56,1.3],[2024.90,1.4],[2025.24,1.2],[2025.58,1.3],[2025.92,1.5],[2026.26,1.2],[2026.60,1.5]];

const xTickYears = [2002,2004,2006,2008,2010,2012,2014,2016,2018,2020,2022,2024,2026];
const yTickValues = [0,5,10,15,20,25,30];

// ---- styling (kept separate from data) ----
const palette = {
  'Python':'#52abf6','C':'#5050c8','C++':'#5fdf7d','Java':'#ee7444','C#':'#6f89ba',
  'JavaScript':'#c86ff2','Visual Basic':'#67dcc8','SQL':'#e85a4e','R':'#f5b872','Rust':'#a6e8e1'
};
const highlighted = 'Java';
const seriesData = {
  'Python':pythonPts,'C':cPts,'C++':cppPts,'Java':javaPts,'C#':csharpPts,
  'JavaScript':jsPts,'Visual Basic':vbPts,'SQL':sqlPts,'R':rPts,'Rust':rustPts
};

function fade(hex, a){
  const n = parseInt(hex.slice(1),16);
  return 'rgba('+((n>>16)&255)+','+((n>>8)&255)+','+(n&255)+','+a+')';
}

const traces = [];
seriesNames.filter(n=>n!==highlighted).concat([highlighted]).forEach(name=>{
  const pts = seriesData[name];
  const hi = name===highlighted;
  traces.push({
    type:'scatter', mode:'lines', name:name, showlegend:false,
    x: pts.map(p=>p[0]), y: pts.map(p=>p[1]),
    line:{color: hi ? palette[name] : fade(palette[name],0.2), width: hi ? 9 : 7.5},
    hoverinfo:'skip'
  });
});

// ---- geometry of the frame (pixels) ----
const W = 2686, H = 905;
const M = {l:133, r:29, t:128, b:177};
const PW = W - M.l - M.r, PH = H - M.t - M.b;
const px2x = px => (px - M.l)/PW;
const py2y = py => (H - M.b - py)/PH;

// ---- hand-built legend row (symbol + label), centred ----
const legendFont = {family:'Inter, "Noto Sans", sans-serif', size:24, color:'#333333'};
const ctx = document.createElement('canvas').getContext('2d');
ctx.font = '24px Inter';
const symLen = 32, symGap = 11, itemGap = 45, legendCenter = 1336, legendY = 843;
const widths = seriesNames.map(n=>ctx.measureText(n).width);
let total = 0;
widths.forEach((w,i)=>{ total += symLen + symGap + w + (i<widths.length-1 ? itemGap : 0); });
let cursor = legendCenter - total/2;
const shapes = [], annotations = [];
seriesNames.forEach((n,i)=>{
  shapes.push({type:'line', xref:'paper', yref:'paper',
    x0:px2x(cursor+4), x1:px2x(cursor+symLen-4), y0:py2y(legendY), y1:py2y(legendY),
    line:{color:palette[n], width:8}});
  annotations.push({xref:'paper', yref:'paper', x:px2x(cursor+symLen+symGap-2), y:py2y(legendY),
    xanchor:'left', yanchor:'middle', showarrow:false, text:n,
    font:Object.assign({}, legendFont, {color: n===highlighted ? '#000000' : '#333333'})});
  cursor += symLen + symGap + widths[i] + itemGap;
});

annotations.push({xref:'paper', yref:'paper', x:px2x(1298), y:py2y(91), xanchor:'center', yanchor:'middle',
  showarrow:false, text:'Source: www.tiobe.com', font:{family:'Inter, "Noto Sans", sans-serif', size:25.3, color:'#666666'}});

const layout = {
  width:W, height:H,
  paper_bgcolor:'rgba(0,0,0,0)', plot_bgcolor:'rgba(0,0,0,0)',
  margin:M,
  showlegend:false,
  font:{family:'Inter, "Noto Sans", sans-serif', color:'#333333'},
  title:{text:'TIOBE Programming Community Index', x:1299/W, xref:'container', xanchor:'center',
    y:1-39/H, yref:'container', yanchor:'middle',
    font:{family:'Inter, "Noto Sans", sans-serif', size:38, color:'#333333', weight:700}},
  xaxis:{type:'linear', range:[2001.24,2026.84], tickmode:'array', tickvals:xTickYears,
    ticktext:xTickYears.map(String),
    showgrid:false, zeroline:false, showline:true, linecolor:'#333333', linewidth:2,
    ticks:'outside', ticklen:18, tickwidth:2, tickcolor:'#333333',
    tickfont:{size:24, color:'#333333'}, ticklabelstandoff:8, fixedrange:true},
  yaxis:{range:[0,30], tickmode:'array', tickvals:yTickValues, showgrid:true, gridcolor:'#e6e6e6', gridwidth:2,
    zeroline:false, showline:false, ticks:'', tickfont:{size:24, color:'#333333'},
    ticklabelstandoff:26,
    title:{text:'Ratings (%)', font:{size:24, color:'#666666'}, standoff:18}, fixedrange:true},
  shapes:shapes, annotations:annotations,
  hovermode:false
};

Plotly.newPlot('chart', traces, layout, {displayModeBar:false, staticPlot:true});
</script></body></html>
